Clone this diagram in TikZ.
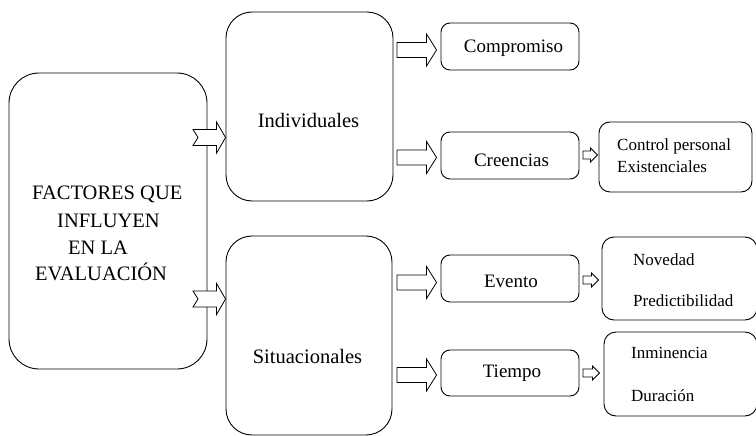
\documentclass[tikz,border=0pt]{standalone}
\usepackage{fontspec}
\setmainfont{Liberation Serif}
\usetikzlibrary{calc}

% Block arrow: tail point, tip point, shaft half height, head half height,
% head length, tail notch depth. The arrow is horizontal at the tail's height.
\newcommand\blockarrow[6]{%
  \draw[arrowshape] let \p1=(#1), \p2=(#2) in
    (\x1,\y1+#3) -- (\x2-#5,\y1+#3) -- (\x2-#5,\y1+#4) -- (\x2,\y1)
    -- (\x2-#5,\y1-#4) -- (\x2-#5,\y1-#3) -- (\x1,\y1-#3) -- (\x1+#6,\y1) -- cycle;}
\newcommand\widearrow[2]{\blockarrow{#1}{#2}{7.5pt}{16pt}{10pt}{0pt}}
\newcommand\thinarrow[2]{\blockarrow{#1}{#2}{4pt}{7pt}{7pt}{0pt}}
\newcommand\tailarrow[2]{\blockarrow{#1}{#2}{8pt}{15.5pt}{9pt}{5pt}}

\begin{document}
\begin{tikzpicture}[x=1pt,y=-1pt,
  box/.style={draw,line width=0.9pt,rounded corners=#1,inner sep=0pt},
  box/.default=9pt,
  arrowshape/.style={draw,fill=white,line width=0.8pt,line join=miter},
  bigtext/.style={inner sep=0pt,font=\fontsize{20.5}{24}\selectfont},
  midtext/.style={inner sep=0pt,font=\fontsize{19}{23}\selectfont},
  smalltext/.style={inner sep=0pt,font=\fontsize{17}{20}\selectfont}]
\useasboundingbox (0,0) rectangle (756,436);

% boxes
\node[box=30pt,minimum width=198pt,minimum height=296pt] (fac) at (108,221) {};
\node[box=26pt,minimum width=167pt,minimum height=189pt] (ind) at (309.5,106.5) {};
\node[box=26pt,minimum width=166pt,minimum height=199pt] (sit) at (309,335.5) {};
\node[box,minimum width=138pt,minimum height=47pt] (comp) at (510,46.5) {};
\node[box,minimum width=138pt,minimum height=47pt] (cre) at (510,155.5) {};
\node[box=11pt,minimum width=153pt,minimum height=70pt] (ctrl) at (675.5,157) {};
\node[box,minimum width=138pt,minimum height=47pt] (evt) at (510,278.5) {};
\node[box=12pt,minimum width=155pt,minimum height=83pt] (nov) at (679.5,278.5) {};
\node[box,minimum width=138pt,minimum height=46pt] (tie) at (510,373) {};
\node[box=12pt,minimum width=153pt,minimum height=84pt] (inm) at (680.5,374) {};

% texts
\node[bigtext,anchor=base west] (fac1) at (32,199) {FACTORES QUE};
\node[bigtext,anchor=base west] (fac2) at (57,227) {INFLUYEN};
\node[bigtext,anchor=base west] (fac3) at (68,254) {EN LA};
\node[bigtext,anchor=base west] (fac4) at (35,280) {EVALUACIÓN};
\node[bigtext,anchor=base] (indt) at (308.5,128) {Individuales};
\node[bigtext,anchor=base] (sitt) at (307.5,363) {Situacionales};
\node[midtext,anchor=base] (compt) at (513.5,53) {Compromiso};
\node[midtext,anchor=base] (cret) at (511.5,166) {Creencias};
\node[midtext,anchor=base] (evtt) at (511,287) {Evento};
\node[midtext,anchor=base] (tiet) at (512,377) {Tiempo};
\node[smalltext,anchor=base west] (ctrl1) at (617,150) {Control personal};
\node[smalltext,anchor=base west] (ctrl2) at (617,172) {Existenciales};
\node[smalltext,anchor=base west] (nov1) at (633,265) {Novedad};
\node[smalltext,anchor=base west] (nov2) at (633,306) {Predictibilidad};
\node[smalltext,anchor=base west] (inm1) at (631,358) {Inminencia};
\node[smalltext,anchor=base west] (inm2) at (631,401) {Duración};

% arrow tails
\coordinate (fa) at (193,137.5);
\coordinate (fb) at (193,299);
\coordinate (ia) at (397,50);
\coordinate (ib) at (397,157.5);
\coordinate (sa) at (397,282.5);
\coordinate (sb) at (397,375);
\coordinate (ca) at (583,155);
\coordinate (ea) at (583,280);
\coordinate (ta) at (583,373);

% connectors
\tailarrow{fa}{ind.west}
\tailarrow{fb}{sit.west}
\widearrow{ia}{$(comp.west)+(-4,0)$}
\widearrow{ib}{$(cre.west)+(-4,0)$}
\widearrow{sa}{$(evt.west)+(-4,0)$}
\widearrow{sb}{$(tie.west)+(-4,0)$}
\thinarrow{ca}{$(ctrl.west)+(-1,0)$}
\thinarrow{ea}{$(nov.west)+(-3,0)$}
\thinarrow{ta}{$(inm.west)+(-4,0)$}
\end{tikzpicture}
\end{document}
